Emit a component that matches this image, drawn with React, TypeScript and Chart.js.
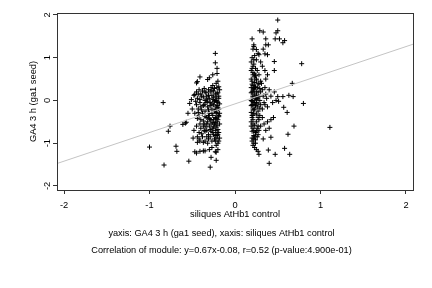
import { useEffect, useRef } from "react";
import { Chart, registerables } from "chart.js";

Chart.register(...registerables);

// ---- data ----
const xTicks = [-2, -1, 0, 1, 2];
const yTicks = [-2, -1, 0, 1, 2];
const xMin = -2.082;
const xMax = 2.082;
const yMin = -2.094;
const yMax = 2.045;
const slope = 0.67;
const intercept = -0.08;

const xTitle = "siliques AtHb1 control";
const yTitle = "GA4 3 h (ga1 seed)";
const caption1 = "yaxis: GA4 3 h (ga1 seed), xaxis: siliques AtHb1 control";
const caption2 = "Correlation of module: y=0.67x-0.08, r=0.52 (p-value:4.900e-01)";

// left cluster
const leftUpperX = [-0.45, -0.42, -0.4, -0.38, -0.36, -0.34, -0.33, -0.31, -0.3, -0.29, -0.28, -0.27, -0.26, -0.25, -0.24, -0.23, -0.22, -0.21, -0.2, -0.19, -0.44, -0.41, -0.37, -0.35, -0.32, -0.26, -0.22, -0.2, -0.48, -0.46];
const leftUpperY = [0.2, 0.25, 0.15, 0.22, 0.28, 0.18, 0.1, 0.25, 0.05, 0.2, 0.3, 0.12, 0.02, 0.22, 0.28, 0.15, 0.08, 0.3, 0.18, 0.05, 0.05, 0.02, 0.08, 0.0, -0.02, 0.35, 0.4, 0.45, 0.12, -0.02];
const leftMidX = [-0.45, -0.43, -0.4, -0.38, -0.36, -0.35, -0.33, -0.32, -0.3, -0.29, -0.28, -0.27, -0.26, -0.25, -0.24, -0.23, -0.22, -0.21, -0.2, -0.2, -0.19, -0.19, -0.42, -0.4, -0.37, -0.34, -0.31, -0.27, -0.24, -0.22, -0.21, -0.47, -0.44, -0.5];
const leftMidY = [-0.1, -0.2, -0.15, -0.3, -0.1, -0.25, -0.4, -0.15, -0.3, -0.05, -0.45, -0.2, -0.35, -0.1, -0.25, -0.4, -0.15, -0.3, -0.05, -0.45, -0.2, -0.35, -0.35, -0.45, -0.48, -0.05, -0.22, -0.08, -0.02, -0.28, -0.12, -0.3, -0.42, -0.2];
const leftLowX = [-0.45, -0.42, -0.4, -0.38, -0.36, -0.35, -0.33, -0.32, -0.3, -0.29, -0.28, -0.27, -0.26, -0.25, -0.24, -0.23, -0.22, -0.21, -0.2, -0.19, -0.2, -0.23, -0.3, -0.37, -0.41, -0.44, -0.48, -0.26, -0.34, -0.31];
const leftLowY = [-0.6, -0.75, -0.65, -0.85, -0.55, -0.95, -0.7, -1.0, -0.6, -0.85, -0.55, -1.1, -0.75, -0.62, -0.9, -0.7, -1.05, -0.58, -0.8, -0.95, -1.15, -1.2, -1.15, -1.18, -0.95, -0.85, -0.7, -0.52, -0.62, -0.8];
const leftCoreX = [-0.18, -0.21, -0.19, -0.22, -0.18, -0.2, -0.23, -0.19, -0.21, -0.18, -0.22, -0.2, -0.19, -0.21, -0.18, -0.23, -0.2, -0.19, -0.22, -0.18];
const leftCoreY = [0.25, 0.17, 0.1, 0.0, -0.08, -0.17, -0.22, -0.38, -0.5, -0.55, -0.62, -0.68, -0.75, -0.82, -0.88, -0.95, -1.0, 0.32, -0.42, -0.3];
const leftDenseX = [-0.43, -0.39, -0.35, -0.31, -0.27, -0.23, -0.41, -0.37, -0.33, -0.29, -0.25, -0.21, -0.43, -0.39, -0.35, -0.31, -0.27, -0.23, -0.41, -0.37, -0.33, -0.29, -0.25, -0.21, -0.39, -0.35, -0.31, -0.27, -0.23, -0.37, -0.33, -0.29, -0.25, -0.21, -0.24, -0.26, -0.28, -0.3, -0.32, -0.36];
const leftDenseY = [0.15, 0.1, 0.2, 0.12, 0.24, 0.0, -0.05, -0.12, 0.03, -0.12, 0.08, -0.02, -0.28, -0.22, -0.38, -0.35, -0.3, -0.52, -0.55, -0.6, -0.55, -0.68, -0.45, -0.75, -0.78, -0.72, -0.9, -0.95, -0.82, -0.98, -0.85, -0.45, -0.8, -0.88, -0.55, -0.65, -0.72, -0.42, -0.5, -0.7];
const leftOutX = [-0.84, -1.0, -0.83, -0.78, -0.76, -0.69, -0.68, -0.61, -0.58, -0.54, -0.55, -0.47, -0.45, -0.53, -0.51, -0.47, -0.45, -0.41, -0.32, -0.29, -0.35, -0.42, -0.23, -0.23, -0.26, -0.21, -0.3, -0.44, -0.22, -0.49, -0.44, -0.41, -0.28, -0.22, -0.57, -0.21];
const leftOutY = [-0.05, -1.09, -1.51, -0.72, -0.6, -1.07, -1.19, -0.56, -0.53, -1.42, -0.3, -1.2, -1.23, -0.07, 0.02, 0.14, 0.41, 0.55, 0.49, -1.56, -1.18, -0.9, 1.1, 0.88, 0.6, 0.63, 0.53, 0.44, -1.4, -0.88, -0.98, -1.19, -1.33, -1.21, -0.51, 0.75];

// right cluster
const rightUpperX = [0.21, 0.23, 0.25, 0.22, 0.24, 0.26, 0.21, 0.28, 0.23, 0.3, 0.32, 0.35, 0.27, 0.33, 0.22, 0.38, 0.36, 0.25];
const rightUpperY = [1.2, 1.05, 0.95, 0.85, 0.75, 0.7, 0.65, 0.6, 0.55, 0.9, 0.8, 0.7, 1.1, 1.2, 1.3, 0.6, 0.5, 0.5];
const rightMidX = [0.2, 0.21, 0.22, 0.23, 0.24, 0.25, 0.26, 0.27, 0.28, 0.29, 0.3, 0.31, 0.32, 0.33, 0.34, 0.35, 0.36, 0.37, 0.38, 0.4, 0.42, 0.44, 0.46, 0.2, 0.21, 0.22, 0.23, 0.24, 0.25, 0.26, 0.27, 0.28, 0.2, 0.2, 0.21, 0.22, 0.24, 0.26, 0.3, 0.32, 0.35, 0.48];
const rightMidY = [0.45, 0.35, 0.25, 0.15, 0.05, -0.05, 0.3, 0.2, 0.1, 0.0, -0.1, 0.4, 0.25, 0.1, -0.05, 0.3, 0.15, 0.05, -0.15, 0.25, 0.1, -0.05, 0.2, -0.1, -0.2, -0.3, 0.42, 0.32, 0.12, -0.15, -0.25, 0.38, 0.2, 0.0, 0.1, -0.05, -0.12, 0.05, 0.2, -0.2, -0.1, 0.0];
const rightLowX = [0.2, 0.21, 0.22, 0.23, 0.24, 0.25, 0.26, 0.27, 0.28, 0.3, 0.32, 0.34, 0.36, 0.38, 0.4, 0.42, 0.2, 0.21, 0.23, 0.25, 0.22, 0.24, 0.29, 0.33, 0.45];
const rightLowY = [-0.4, -0.55, -0.7, -0.85, -1.0, -0.5, -0.65, -0.8, -0.45, -0.6, -0.4, -0.55, -0.7, -0.5, -0.65, -0.45, -0.95, -1.05, -1.1, -1.15, -0.9, -0.75, -0.35, -0.9, -0.4];
const rightCoreX = [0.19, 0.2, 0.21, 0.19, 0.2, 0.22, 0.19, 0.21, 0.2, 0.19, 0.22, 0.2, 0.21, 0.19, 0.2, 0.22];
const rightCoreY = [0.9, 0.75, 0.6, 0.5, 0.38, 0.28, 0.18, 0.08, -0.02, -0.12, -0.22, -0.35, -0.45, -0.6, -0.72, -0.82];
const rightDenseX = [0.19, 0.21, 0.23, 0.25, 0.27, 0.19, 0.21, 0.23, 0.25, 0.27, 0.29, 0.19, 0.21, 0.23, 0.25, 0.27, 0.19, 0.21, 0.23, 0.25, 0.27, 0.29, 0.19, 0.21, 0.23, 0.25, 0.27, 0.2, 0.22, 0.24, 0.26, 0.28, 0.3, 0.2, 0.22, 0.24];
const rightDenseY = [0.7, 0.8, 0.62, 0.48, 0.4, 0.3, 0.22, 0.3, 0.2, 0.08, 0.28, 0.0, -0.1, -0.05, 0.02, -0.08, -0.28, -0.35, -0.2, -0.32, -0.4, -0.18, -0.5, -0.65, -0.58, -0.72, -0.6, -0.88, -1.0, -0.92, -0.85, -0.7, 0.45, 1.0, 0.95, 0.58];
const rightOutX = [0.5, 0.2, 0.29, 0.33, 0.48, 0.5, 0.36, 0.47, 0.52, 0.58, 0.56, 0.39, 0.36, 0.22, 0.25, 0.28, 0.35, 0.38, 0.46, 0.78, 0.46, 0.67, 0.5, 0.56, 0.63, 0.68, 0.51, 0.8, 0.57, 0.61, 0.69, 1.11, 0.62, 0.42, 0.58, 0.64, 0.39, 0.47, 0.28, 0.4, 0.27];
const rightOutY = [1.88, 1.44, 1.63, 1.6, 1.58, 1.63, 1.44, 1.44, 1.44, 1.4, 1.35, 1.3, 1.3, 1.26, 1.19, 1.07, 1.09, 1.07, 0.91, 0.86, 0.7, 0.4, 0.09, 0.09, 0.12, 0.09, -0.02, -0.07, -0.16, -0.28, -0.6, -0.63, -0.79, -0.86, -1.12, -1.26, -1.16, -1.26, -1.26, -1.47, -1.19];

const groupsX = [leftUpperX, leftMidX, leftLowX, leftCoreX, leftDenseX, leftOutX, rightUpperX, rightMidX, rightLowX, rightCoreX, rightDenseX, rightOutX];
const groupsY = [leftUpperY, leftMidY, leftLowY, leftCoreY, leftDenseY, leftOutY, rightUpperY, rightMidY, rightLowY, rightCoreY, rightDenseY, rightOutY];

const FONT = "'Liberation Sans', Arial, Helvetica, sans-serif";

export default function App() {
  const ref = useRef<HTMLCanvasElement | null>(null);

  useEffect(() => {
    const canvas = ref.current;
    if (!canvas) return;

    const points: { x: number; y: number }[] = [];
    groupsX.forEach((gx, gi) => {
      gx.forEach((x, i) => points.push({ x, y: groupsY[gi][i] }));
    });
    const lineData = [
      { x: xMin, y: slope * xMin + intercept },
      { x: xMax, y: slope * xMax + intercept },
    ];

    const boxPlugin = {
      id: "boxAndYLabels",
      afterDraw(chart: any) {
        const { ctx, chartArea } = chart;
        ctx.save();
        ctx.strokeStyle = "#333";
        ctx.lineWidth = 1;
        ctx.strokeRect(
          Math.round(chartArea.left) + 0.5,
          Math.round(chartArea.top) + 0.5,
          Math.round(chartArea.right - chartArea.left),
          Math.round(chartArea.bottom - chartArea.top)
        );
        const ys = chart.scales.y;
        ctx.fillStyle = "#000";
        ctx.font = `9.3px ${FONT}`;
        ctx.textAlign = "center";
        ctx.textBaseline = "middle";
        yTicks.forEach((v) => {
          const py = ys.getPixelForValue(v);
          ctx.save();
          ctx.translate(47, py);
          ctx.rotate(-Math.PI / 2);
          ctx.fillText(String(v), 0, 0);
          ctx.restore();
        });
        ctx.restore();
      },
    };

    const tickFont = { family: FONT, size: 9.3 };

    const chart = new Chart(canvas, {
      type: "scatter",
      data: {
        datasets: [
          {
            data: lineData,
            showLine: true,
            borderColor: "#c4c4c4",
            borderWidth: 1,
            pointRadius: 0,
            fill: false,
          } as any,
          {
            data: points,
            pointStyle: "cross",
            pointRadius: 2.5,
            borderWidth: 1,
            borderColor: "#000",
            backgroundColor: "#000",
          } as any,
        ],
      },
      options: {
        animation: false,
        responsive: false,
        maintainAspectRatio: false,
        layout: { padding: { left: 30, top: 13, right: 19, bottom: 29.5 } },
        plugins: {
          legend: { display: false },
          tooltip: { enabled: false },
          title: {
            display: true,
            position: "bottom",
            text: [caption1, caption2],
            color: "#000",
            font: { family: FONT, size: 9.2, weight: "normal", lineHeight: "17px" } as any,
            padding: { top: 4.5, bottom: 0 },
          },
        },
        scales: {
          x: {
            type: "linear",
            min: xMin,
            max: xMax,
            afterFit: (s: any) => {
              s.height = 30;
            },
            afterBuildTicks: (s: any) => {
              s.ticks = xTicks.map((value) => ({ value }));
            },
            grid: { drawOnChartArea: false, drawTicks: true, tickLength: 4, color: "#333" },
            border: { display: false },
            ticks: { padding: 6, font: tickFont, color: "#000", maxRotation: 0, autoSkip: false },
            title: { display: true, text: xTitle, color: "#000", font: tickFont, padding: { top: 0, bottom: 0 } },
          },
          y: {
            type: "linear",
            min: yMin,
            max: yMax,
            afterFit: (s: any) => {
              s.width = 27;
            },
            afterBuildTicks: (s: any) => {
              s.ticks = yTicks.map((value) => ({ value }));
            },
            grid: { drawOnChartArea: false, drawTicks: true, tickLength: 4, color: "#333" },
            border: { display: false },
            ticks: { display: false },
            title: { display: true, text: yTitle, color: "#000", font: tickFont, padding: { top: -2.6, bottom: 0 } },
          },
        },
      },
      plugins: [boxPlugin],
    });

    return () => chart.destroy();
  }, []);

  return (
    <div style={{ position: "fixed", left: 0, top: 0, width: 432, height: 288, background: "#fff" }}>
      <canvas ref={ref} width={432} height={288} style={{ width: 432, height: 288, display: "block" }} />
    </div>
  );
}
